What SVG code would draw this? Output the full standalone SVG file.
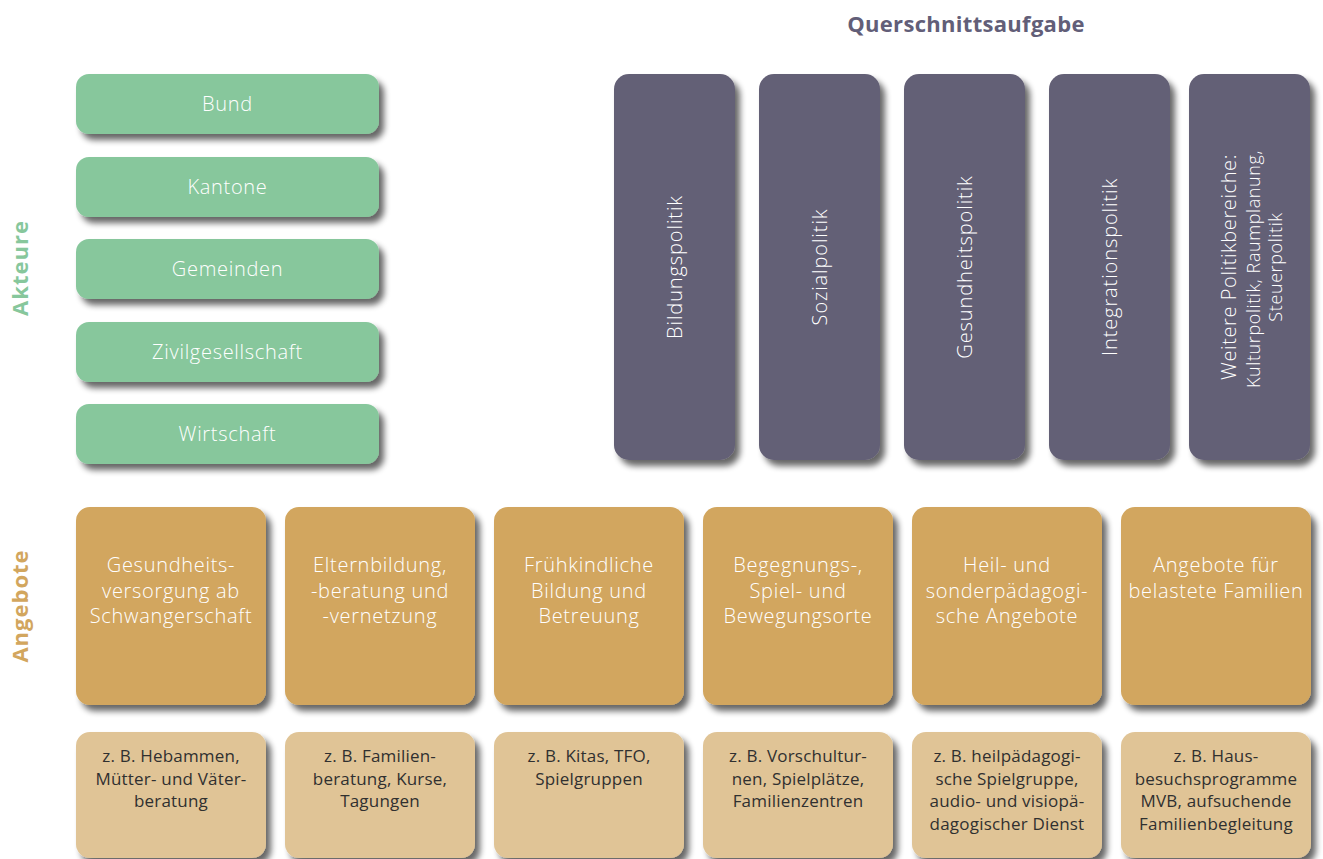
<svg xmlns="http://www.w3.org/2000/svg" width="1323" height="859" viewBox="0 0 1323 859">
<defs>
<filter id="sh" x="-20%" y="-20%" width="150%" height="150%">
<feGaussianBlur in="SourceAlpha" stdDeviation="3"/>
<feOffset dx="5" dy="6" result="b"/>
<feComponentTransfer><feFuncA type="linear" slope="0.6"/></feComponentTransfer>
<feMerge><feMergeNode/><feMergeNode in="SourceGraphic"/></feMerge>
</filter>
</defs>
<style>
text{font-family:"Open Sans","Noto Sans","Liberation Sans",sans-serif}
.g rect{fill:#87C79C;filter:url(#sh)}
.p rect{fill:#646076;filter:url(#sh)}
.o rect{fill:#D2A65E;filter:url(#sh)}
.t rect{fill:#E0C496;filter:url(#sh)}
.gt{fill:#fff;font-size:20px;text-anchor:middle;letter-spacing:0.7px;font-weight:300}
.pt{fill:#fff;font-size:20px;text-anchor:middle;letter-spacing:0.9px;font-weight:300}
.ot{fill:#fff;font-size:20px;text-anchor:middle;letter-spacing:0.7px;font-weight:300}
.tt{fill:#303030;font-size:17px;text-anchor:middle;letter-spacing:0.2px}
.lbl{font-size:22px;font-weight:700;text-anchor:middle;letter-spacing:1px}
</style>
<rect width="1323" height="859" fill="#fff"/>
<text class="lbl" x="966" y="32" fill="#625E78" style="letter-spacing:0.3px">Querschnittsaufgabe</text>
<text class="lbl" transform="translate(28,268) rotate(-90)" fill="#87C79C">Akteure</text>
<text class="lbl" transform="translate(28,606) rotate(-90)" fill="#D2A65E">Angebote</text>

<g id="bund" class="g"><rect x="76" y="74" width="303" height="60" rx="13"/><text class="gt" x="227.5" y="111">Bund</text></g>
<g id="kantone" class="g"><rect x="76" y="157" width="303" height="60" rx="13"/><text class="gt" x="227.5" y="194">Kantone</text></g>
<g id="gemeinden" class="g"><rect x="76" y="239" width="303" height="60" rx="13"/><text class="gt" x="227.5" y="276">Gemeinden</text></g>
<g id="zivil" class="g"><rect x="76" y="322" width="303" height="60" rx="13"/><text class="gt" x="227.5" y="359">Zivilgesellschaft</text></g>
<g id="wirtschaft" class="g"><rect x="76" y="404" width="303" height="60" rx="13"/><text class="gt" x="227.5" y="441">Wirtschaft</text></g>

<g id="bildung" class="p"><rect x="614" y="74" width="121" height="386" rx="15"/><text class="pt" transform="translate(681.5,267) rotate(-90)">Bildungspolitik</text></g>
<g id="sozial" class="p"><rect x="759" y="74" width="121" height="386" rx="15"/><text class="pt" transform="translate(826.5,267) rotate(-90)">Sozialpolitik</text></g>
<g id="gesundheit" class="p"><rect x="904" y="74" width="121" height="386" rx="15"/><text class="pt" transform="translate(971.5,267) rotate(-90)">Gesundheitspolitik</text></g>
<g id="integration" class="p"><rect x="1049" y="74" width="121" height="386" rx="15"/><text class="pt" transform="translate(1116.5,267) rotate(-90)">Integrationspolitik</text></g>
<g id="weitere" class="p"><rect x="1189" y="74" width="121" height="386" rx="15"/>
<text class="pt" style="letter-spacing:0.6px" transform="translate(1236,267) rotate(-90)">Weitere Politikbereiche:</text>
<text class="pt" style="font-size:18px;letter-spacing:0.6px" transform="translate(1260,269) rotate(-90)">Kulturpolitik, Raumplanung,</text>
<text class="pt" style="font-size:18px;letter-spacing:0.6px" transform="translate(1282,267) rotate(-90)">Steuerpolitik</text>
</g>

<g id="a1" class="o"><rect x="76" y="507" width="190" height="198" rx="14"/><text class="ot"><tspan x="171" y="572">Gesundheits-</tspan><tspan x="171" y="597.5">versorgung ab</tspan><tspan x="171" y="623">Schwangerschaft</tspan></text></g>
<g id="a2" class="o"><rect x="285" y="507" width="190" height="198" rx="14"/><text class="ot"><tspan x="380" y="572">Elternbildung,</tspan><tspan x="380" y="597.5">-beratung und</tspan><tspan x="380" y="623">-vernetzung</tspan></text></g>
<g id="a3" class="o"><rect x="494" y="507" width="190" height="198" rx="14"/><text class="ot"><tspan x="589" y="572">Frühkindliche</tspan><tspan x="589" y="597.5">Bildung und</tspan><tspan x="589" y="623">Betreuung</tspan></text></g>
<g id="a4" class="o"><rect x="703" y="507" width="190" height="198" rx="14"/><text class="ot"><tspan x="798" y="572">Begegnungs-,</tspan><tspan x="798" y="597.5">Spiel- und</tspan><tspan x="798" y="623">Bewegungsorte</tspan></text></g>
<g id="a5" class="o"><rect x="912" y="507" width="190" height="198" rx="14"/><text class="ot"><tspan x="1007" y="572">Heil- und</tspan><tspan x="1007" y="597.5">sonderpädagogi-</tspan><tspan x="1007" y="623">sche Angebote</tspan></text></g>
<g id="a6" class="o"><rect x="1121" y="507" width="190" height="198" rx="14"/><text class="ot"><tspan x="1216" y="572">Angebote für</tspan><tspan x="1216" y="597.5">belastete Familien</tspan></text></g>

<g id="b1" class="t"><rect x="76" y="732" width="190" height="126" rx="14"/><text class="tt"><tspan x="171" y="762">z. B. Hebammen,</tspan><tspan x="171" y="784.5">Mütter- und Väter-</tspan><tspan x="171" y="807">beratung</tspan></text></g>
<g id="b2" class="t"><rect x="285" y="732" width="190" height="126" rx="14"/><text class="tt"><tspan x="380" y="762">z. B. Familien-</tspan><tspan x="380" y="784.5">beratung, Kurse,</tspan><tspan x="380" y="807">Tagungen</tspan></text></g>
<g id="b3" class="t"><rect x="494" y="732" width="190" height="126" rx="14"/><text class="tt"><tspan x="589" y="762">z. B. Kitas, TFO,</tspan><tspan x="589" y="784.5">Spielgruppen</tspan></text></g>
<g id="b4" class="t"><rect x="703" y="732" width="190" height="126" rx="14"/><text class="tt"><tspan x="798" y="762">z. B. Vorschultur-</tspan><tspan x="798" y="784.5">nen, Spielplätze,</tspan><tspan x="798" y="807">Familienzentren</tspan></text></g>
<g id="b5" class="t"><rect x="912" y="732" width="190" height="126" rx="14"/><text class="tt"><tspan x="1007" y="762">z. B. heilpädagogi-</tspan><tspan x="1007" y="784.5">sche Spielgruppe,</tspan><tspan x="1007" y="807">audio- und visiopä-</tspan><tspan x="1007" y="829.5">dagogischer Dienst</tspan></text></g>
<g id="b6" class="t"><rect x="1121" y="732" width="190" height="126" rx="14"/><text class="tt"><tspan x="1216" y="762">z. B. Haus-</tspan><tspan x="1216" y="784.5">besuchsprogramme</tspan><tspan x="1216" y="807">MVB, aufsuchende</tspan><tspan x="1216" y="829.5">Familienbegleitung</tspan></text></g>
<g id="connectors"/>
</svg>
